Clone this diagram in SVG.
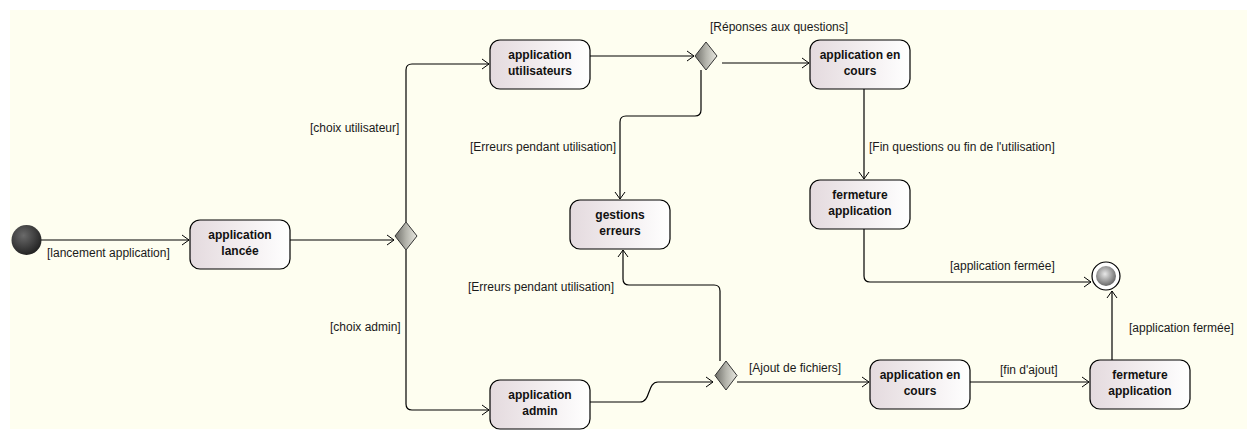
<svg xmlns="http://www.w3.org/2000/svg" width="1257" height="440" viewBox="0 0 1257 440">
<defs>
<linearGradient id="ng" x1="0" y1="0" x2="1" y2="0">
<stop offset="0" stop-color="#e4dade"/>
<stop offset="1" stop-color="#ffffff"/>
</linearGradient>
<linearGradient id="dg" x1="0" y1="0" x2="1" y2="0">
<stop offset="0" stop-color="#6e6e68"/>
<stop offset="0.5" stop-color="#b4b4ac"/>
<stop offset="1" stop-color="#e8e8e0"/>
</linearGradient>
<radialGradient id="ig" cx="0.4" cy="0.35" r="0.7">
<stop offset="0" stop-color="#6a6a6a"/>
<stop offset="1" stop-color="#1e1e1e"/>
</radialGradient>
<radialGradient id="fg" cx="0.45" cy="0.4" r="0.65">
<stop offset="0" stop-color="#e8e8e8"/>
<stop offset="1" stop-color="#5e5e5e"/>
</radialGradient>
<marker id="arr" markerWidth="10" markerHeight="12" refX="8" refY="6" orient="auto" markerUnits="userSpaceOnUse">
<path d="M1,1 L8,6 L1,11" fill="none" stroke="#000" stroke-width="1"/>
</marker>
<style>
.node rect{fill:url(#ng);stroke:#000;stroke-width:1.2}
.node text{font-family:"Liberation Sans",Arial,sans-serif;font-size:12px;font-weight:bold;fill:#111;text-anchor:middle}
.dec polygon{fill:url(#dg);stroke:#333;stroke-width:1}
#connectors path{fill:none;stroke:#000;stroke-width:1.2;marker-end:url(#arr)}
.lbl{font-family:"Liberation Sans",Arial,sans-serif;font-size:12px;fill:#1a1a1a}
</style>
</defs>
<rect x="0" y="0" width="1257" height="440" fill="#ffffff"/>
<rect x="10" y="10" width="1237" height="419" fill="#fefef0"/>

<g id="connectors">
<path d="M41,240 H189"/>
<path d="M290,240 H394"/>
<path d="M406,222 V70 Q406,64 412,64 H489"/>
<path d="M406,250 V404 Q406,410 412,410 H489"/>
<path d="M590,56 H694"/>
<path d="M722,63 H809"/>
<path d="M701,70 V110 Q701,116 695,116 H626 Q620,116 620,122 V199"/>
<path d="M720,361 V291 Q720,285 714,285 H629 Q623,285 623,279 V250"/>
<path d="M590,402 H640 C651,402 647,382 658,382 H713"/>
<path d="M737,382 H869"/>
<path d="M970,382 H1089"/>
<path d="M1112,360 V291"/>
<path d="M864,229 V276 Q864,282 870,282 H1091"/>
<path d="M864,89 V179"/>
</g>

<g id="labels">
<text class="lbl" x="47" y="257">[lancement application]</text>
<text class="lbl" x="310" y="132">[choix utilisateur]</text>
<text class="lbl" x="330" y="331">[choix admin]</text>
<text class="lbl" x="710" y="31">[Réponses aux questions]</text>
<text class="lbl" x="470" y="151">[Erreurs pendant utilisation]</text>
<text class="lbl" x="869" y="151">[Fin questions ou fin de l'utilisation]</text>
<text class="lbl" x="468" y="291">[Erreurs pendant utilisation]</text>
<text class="lbl" x="950" y="270">[application fermée]</text>
<text class="lbl" x="1129" y="332">[application fermée]</text>
<text class="lbl" x="749" y="372">[Ajout de fichiers]</text>
<text class="lbl" x="1000" y="374">[fin d'ajout]</text>
</g>

<g id="initial"><circle cx="26.5" cy="240" r="15" fill="url(#ig)"/></g>
<g id="final">
<circle cx="1106" cy="276" r="14" fill="#ffffff" stroke="#000" stroke-width="1.2"/>
<circle cx="1106" cy="276" r="10" fill="url(#fg)"/>
</g>

<g id="n-lancee" class="node"><rect x="190" y="220" width="100" height="49" rx="10"/><text x="240" y="239">application</text><text x="240" y="255">lancée</text></g>
<g id="n-utilisateurs" class="node"><rect x="490" y="40" width="100" height="49" rx="10"/><text x="540" y="59">application</text><text x="540" y="75">utilisateurs</text></g>
<g id="n-encours1" class="node"><rect x="810" y="40" width="100" height="49" rx="10"/><text x="860" y="59">application en</text><text x="860" y="75">cours</text></g>
<g id="n-fermeture1" class="node"><rect x="810" y="180" width="100" height="49" rx="10"/><text x="860" y="199">fermeture</text><text x="860" y="215">application</text></g>
<g id="n-gestions" class="node"><rect x="570" y="200" width="100" height="49" rx="10"/><text x="620" y="219">gestions</text><text x="620" y="235">erreurs</text></g>
<g id="n-admin" class="node"><rect x="490" y="380" width="100" height="49" rx="10"/><text x="540" y="399">application</text><text x="540" y="415">admin</text></g>
<g id="n-encours2" class="node"><rect x="870" y="360" width="100" height="49" rx="10"/><text x="920" y="379">application en</text><text x="920" y="395">cours</text></g>
<g id="n-fermeture2" class="node"><rect x="1090" y="360" width="100" height="49" rx="10"/><text x="1140" y="379">fermeture</text><text x="1140" y="395">application</text></g>

<g id="d-choix" class="dec"><polygon points="406,222 417,236 406,250 395,236"/></g>
<g id="d-reponses" class="dec"><polygon points="706,42 717,56 706,70 695,56"/></g>
<g id="d-ajout" class="dec"><polygon points="726,361 737,375.5 726,390 715,375.5"/></g>
</svg>
